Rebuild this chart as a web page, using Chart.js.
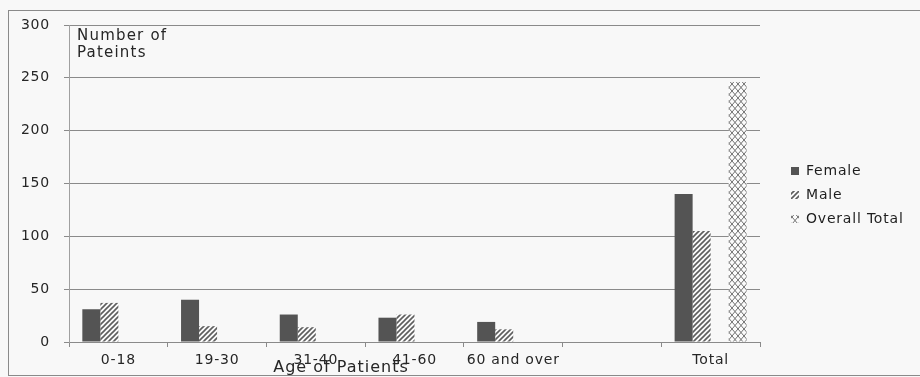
<!DOCTYPE html>
<html lang="en">
<head>
<meta charset="UTF-8">
<title>Number of Patients by Age</title>
<style>
  body { margin: 0; padding: 0; background: #f8f8f8; }
  #chart { display: block; }
</style>
</head>
<body>
<canvas id="chart" width="920" height="377"></canvas>
<script src="https://cdn.jsdelivr.net/npm/chart.js@4"></script>
<script>
const ageGroups = ['0-18', '19-30', '31-40', '41-60', '60 and over', '', 'Total'];
const femaleCounts = [31, 40, 26, 23, 19, null, 140];
const maleCounts = [37, 15, 14, 26, 12, null, 105];
const blankSeries = [null, null, null, null, null, null, null];
const overallTotal = [null, null, null, null, null, null, 246];
const yMax = 300;
const yStep = 50;

const FONT = 'DejaVu Sans';
const TEXT = '#262626';

// hatch fills, like the old Excel pattern fills
function hatch(w, h, draw) {
    const c = document.createElement('canvas');
    c.width = w; c.height = h;
    const g = c.getContext('2d');
    g.fillStyle = '#fbfbfb';
    g.fillRect(0, 0, w, h);
    draw(g, w, h);
    return g.createPattern(c, 'repeat');
}
const ctx = document.getElementById('chart').getContext('2d');
const malePattern = hatch(5, 5, (g, w, h) => {
    g.strokeStyle = '#5e5e5e';
    g.lineWidth = 1.6;
    g.beginPath();
    g.moveTo(-1, h + 1); g.lineTo(w + 1, -1);
    g.moveTo(-1, 1); g.lineTo(1, -1);
    g.moveTo(w - 1, h + 1); g.lineTo(w + 1, h - 1);
    g.stroke();
});
const crossPattern = hatch(6, 7, (g, w, h) => {
    g.strokeStyle = '#707070';
    g.lineWidth = 1;
    g.beginPath();
    g.moveTo(0, 0); g.lineTo(w, h);
    g.moveTo(w, 0); g.lineTo(0, h);
    g.stroke();
});

const chartFrame = {
    id: 'chartFrame',
    afterLayout(chart) {
        const lg = chart.legend;
        lg.left = chart.chartArea.right + 21;
        lg.top -= 6;
        lg.bottom -= 6;
    },
    beforeDraw(chart) {
        const c = chart.ctx;
        c.save();
        c.strokeStyle = '#8a8a8a';
        c.lineWidth = 1;
        c.strokeRect(8.5, 10.5, 930, 365);
        c.restore();
        c.letterSpacing = '0.8px';
    },
    afterDraw(chart) {
        const c = chart.ctx;
        const area = chart.chartArea;
        c.save();
        c.fillStyle = TEXT;
        c.textAlign = 'left';
        c.textBaseline = 'alphabetic';
        c.font = '15px "' + FONT + '"';
        c.letterSpacing = '1.2px';
        c.fillText('Number of', area.left + 8, 40);
        c.fillText('Pateints', area.left + 8, 57);
        c.font = '16px "' + FONT + '"';
        c.letterSpacing = '1px';
        c.textAlign = 'center';
        c.fillText('Age of Patients', 341, 372);
        c.restore();
    }
};

const chart = new Chart(ctx, {
    type: 'bar',
    data: {
        labels: ageGroups,
        datasets: [
            { label: 'Female', data: femaleCounts, backgroundColor: '#545454', borderWidth: 0 },
            { label: 'Male', data: maleCounts, backgroundColor: malePattern, borderWidth: 0 },
            { label: '', data: blankSeries, backgroundColor: '#ffffff', borderWidth: 0 },
            { label: 'Overall Total', data: overallTotal, backgroundColor: crossPattern, borderWidth: 0 }
        ]
    },
    options: {
        responsive: false,
        animation: false,
        devicePixelRatio: 1,
        layout: { padding: { left: 0, top: 25, right: 0, bottom: 0 } },
        datasets: { bar: { categoryPercentage: 0.73, barPercentage: 1.0 } },
        plugins: {
            tooltip: { enabled: false },
            legend: {
                position: 'right',
                labels: {
                    font: { family: FONT, size: 14 },
                    color: '#1e1e1e',
                    boxWidth: 8,
                    boxHeight: 8,
                    padding: 10,
                    filter: item => item.text !== ''
                }
            }
        },
        scales: {
            x: {
                afterFit: s => { s.height = 35; },
                grid: { offset: true, drawOnChartArea: false, drawTicks: true, tickLength: 5, color: '#8a8a8a' },
                border: { display: true, color: '#8a8a8a' },
                ticks: { color: TEXT, font: { family: FONT, size: 14 }, padding: 5, maxRotation: 0, autoSkip: false }
            },
            y: {
                min: 0,
                max: yMax,
                afterFit: s => { s.width = 69; },
                grid: { color: '#8a8a8a', tickLength: 5, drawTicks: true },
                border: { display: true, color: '#a0a0a0' },
                ticks: { stepSize: yStep, color: TEXT, font: { family: FONT, size: 14 }, padding: 14 }
            }
        }
    },
    plugins: [chartFrame]
});

// fixed room on the right for the legend
const fitLegend = chart.legend.fit.bind(chart.legend);
chart.legend.fit = function () { fitLegend(); this.width = 160; };
chart.update();
</script>
</body>
</html>
